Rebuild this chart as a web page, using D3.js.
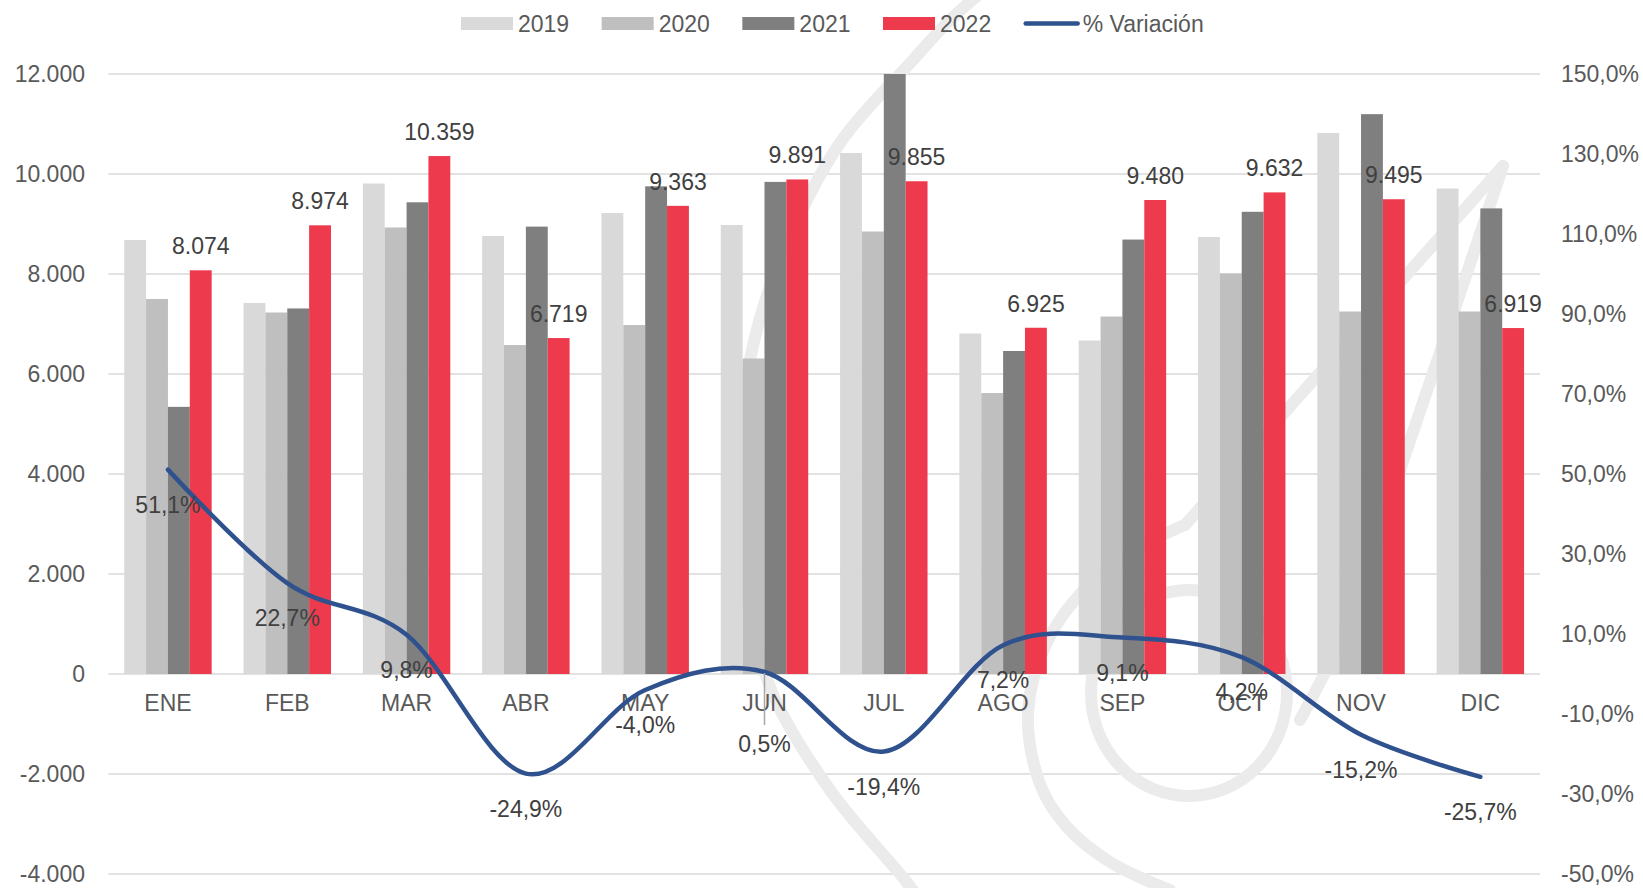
<!DOCTYPE html>
<html>
<head>
<meta charset="utf-8">
<script src="https://cdn.jsdelivr.net/npm/d3@7"></script>
<style>
  html, body { margin: 0; padding: 0; background: #ffffff; }
  svg { display: block; font-family: "Liberation Sans", Arial, sans-serif; }
</style>
</head>
<body>
<svg id="chart" width="1643" height="888"></svg>
<script>
// ---------- data ----------
const months = ["ENE","FEB","MAR","ABR","MAY","JUN","JUL","AGO","SEP","OCT","NOV","DIC"];
const seriesNames = ["2019","2020","2021","2022"];
const values2019 = [8680, 7420, 9810, 8760, 9220, 8980, 10420, 6810, 6670, 8740, 10820, 9710];
const values2020 = [7500, 7230, 8930, 6580, 6980, 6310, 8850, 5620, 7150, 8010, 7250, 7250];
const values2021 = [5343, 7311, 9434, 8948, 9753, 9842, 12227, 6460, 8689, 9244, 11197, 9312];
const values2022 = [8074, 8974, 10359, 6719, 9363, 9891, 9855, 6925, 9480, 9632, 9495, 6919];
const variation = [51.1, 22.7, 9.8, -24.9, -4.0, 0.5, -19.4, 7.2, 9.1, 4.2, -15.2, -25.7];
const lineName = "% Variación";
const leftTicks = [-4000, -2000, 0, 2000, 4000, 6000, 8000, 10000, 12000];
const rightTicks = [-50, -30, -10, 10, 30, 50, 70, 90, 110, 130, 150];

// ---------- styles ----------
const barColors = ["#d9d9d9", "#bfbfbf", "#7f7f7f", "#ee3a4d"];
const lineColor = "#2f528f";
const gridColor = "#d9d9d9";
const axisText = "#595959";
const labelText = "#404040";
const fontSize = 23;

const svg = d3.select("#chart");
const W = 1643, H = 888;
const plot = { left: 108.3, right: 1540, top: 74, bottom: 874 };

const locale = d3.formatLocale({ decimal: ",", thousands: ".", grouping: [3], currency: ["", "€"], minus: "-" });
const fmtInt = locale.format(",.0f");
const fmtPct = v => locale.format(",.1f")(v) + "%";

const x0 = d3.scaleBand().domain(months).range([plot.left, plot.right]).paddingInner(0.267).paddingOuter(0.1335);
const x1 = d3.scaleBand().domain(seriesNames).range([0, x0.bandwidth()]).padding(0);
const y = d3.scaleLinear().domain([-4000, 12000]).range([plot.bottom, plot.top]);
const y2 = d3.scaleLinear().domain([-50, 150]).range([plot.bottom, plot.top]);
const cx = m => x0(m) + x0.bandwidth() / 2;

// ---------- gridlines ----------
svg.append("g").selectAll("line").data(leftTicks).join("line")
  .attr("x1", plot.left).attr("x2", plot.right)
  .attr("y1", d => y(d)).attr("y2", d => y(d))
  .attr("stroke", gridColor).attr("stroke-width", 1.6);

// ---------- watermark (faint logo behind bars) ----------
const wm = svg.append("g").attr("fill", "none").attr("stroke", "#ebebeb")
  .attr("stroke-width", 12).attr("stroke-linecap", "round").attr("stroke-linejoin", "round");
const wmLine = d3.line().curve(d3.curveCatmullRom.alpha(0.5));
wm.append("path").attr("d", wmLine([[990,-15],[950,20],[913,60],[840,143],[780,260],[750,360],[739,480],[748,600],[772,692],[830,790],[905,880],[920,900]]));
wm.append("path").attr("d", wmLine([[1185,525],[1155,539],[1093,581],[1047,642],[1028,713],[1040,784],[1066,826],[1110,862],[1170,890]]));
wm.append("path").attr("d", wmLine([[1185,525],[1503,166]]));
wm.append("path").attr("d", wmLine([[1503,166],[1400,470],[1340,640],[1300,720]]));
wm.append("ellipse").attr("cx", 1189).attr("cy", 693).attr("rx", 98).attr("ry", 103);

// ---------- bars ----------
const allSeries = [values2019, values2020, values2021, values2022];
svg.append("defs").append("clipPath").attr("id", "plotClip")
  .append("rect").attr("x", plot.left).attr("y", plot.top).attr("width", plot.right - plot.left).attr("height", plot.bottom - plot.top);

const barsG = svg.append("g").attr("clip-path", "url(#plotClip)");
seriesNames.forEach((s, si) => {
  barsG.append("g").selectAll("rect").data(months).join("rect")
    .attr("x", m => x0(m) + x1(s))
    .attr("width", x1.bandwidth())
    .attr("y", (m, i) => y(allSeries[si][i]))
    .attr("height", (m, i) => y(0) - y(allSeries[si][i]))
    .attr("fill", barColors[si]);
});

// ---------- left axis labels ----------
svg.append("g").selectAll("text").data(leftTicks).join("text")
  .attr("x", 85).attr("y", d => y(d)).attr("dy", "0.35em")
  .attr("text-anchor", "end").attr("fill", axisText).attr("font-size", fontSize)
  .text(d => fmtInt(d));

// ---------- right axis labels ----------
svg.append("g").selectAll("text").data(rightTicks).join("text")
  .attr("x", 1561).attr("y", d => y2(d)).attr("dy", "0.35em")
  .attr("text-anchor", "start").attr("fill", axisText).attr("font-size", fontSize)
  .text(d => fmtPct(d));

// ---------- category labels ----------
svg.append("g").selectAll("text").data(months).join("text")
  .attr("x", m => cx(m)).attr("y", 710.5)
  .attr("text-anchor", "middle").attr("fill", axisText).attr("font-size", fontSize)
  .text(m => m);

// ---------- variation line ----------
const pts = months.map((m, i) => [cx(m), y2(variation[i])]);
svg.append("path")
  .attr("d", d3.line().curve(d3.curveCatmullRom.alpha(0))(pts))
  .attr("fill", "none").attr("stroke", lineColor).attr("stroke-width", 4.5)
  .attr("stroke-linecap", "round").attr("stroke-linejoin", "round");

// ---------- 2022 value labels ----------
svg.append("g").selectAll("text").data(months).join("text")
  .attr("x", m => x0(m) + x1("2022") + x1.bandwidth() / 2)
  .attr("y", (m, i) => y(values2022[i]) - 16)
  .attr("text-anchor", "middle").attr("fill", labelText).attr("font-size", fontSize)
  .text((m, i) => fmtInt(values2022[i]));

// ---------- variation labels (JUN label moved down with leader line) ----------
const movedIndex = 5;
svg.append("line")
  .attr("x1", cx(months[movedIndex])).attr("x2", cx(months[movedIndex]))
  .attr("y1", y2(variation[movedIndex]) + 1).attr("y2", y2(variation[movedIndex]) + 53)
  .attr("stroke", "#a6a6a6").attr("stroke-width", 1.5);
svg.append("g").selectAll("text").data(months).join("text")
  .attr("x", m => cx(m))
  .attr("y", (m, i) => y2(variation[i]) + (i === movedIndex ? 80 : 43))
  .attr("text-anchor", "middle").attr("fill", labelText).attr("font-size", fontSize)
  .text((m, i) => fmtPct(variation[i]));

// ---------- legend ----------
const legend = svg.append("g");
let lx = 461;
const ly = 23.5;
seriesNames.forEach((s, si) => {
  legend.append("rect").attr("x", lx).attr("y", ly - 6.5).attr("width", 52).attr("height", 13).attr("fill", barColors[si]);
  const t = legend.append("text").attr("x", lx + 57).attr("y", ly).attr("dy", "0.35em")
    .attr("fill", axisText).attr("font-size", fontSize).text(s);
  lx = lx + 57 + t.node().getComputedTextLength() + 32.5;
});
legend.append("line").attr("x1", lx + 2).attr("x2", lx + 54).attr("y1", ly).attr("y2", ly)
  .attr("stroke", lineColor).attr("stroke-width", 4.5).attr("stroke-linecap", "round");
legend.append("text").attr("x", lx + 59).attr("y", ly).attr("dy", "0.35em")
  .attr("fill", axisText).attr("font-size", fontSize).text(lineName);
</script>
</body>
</html>
